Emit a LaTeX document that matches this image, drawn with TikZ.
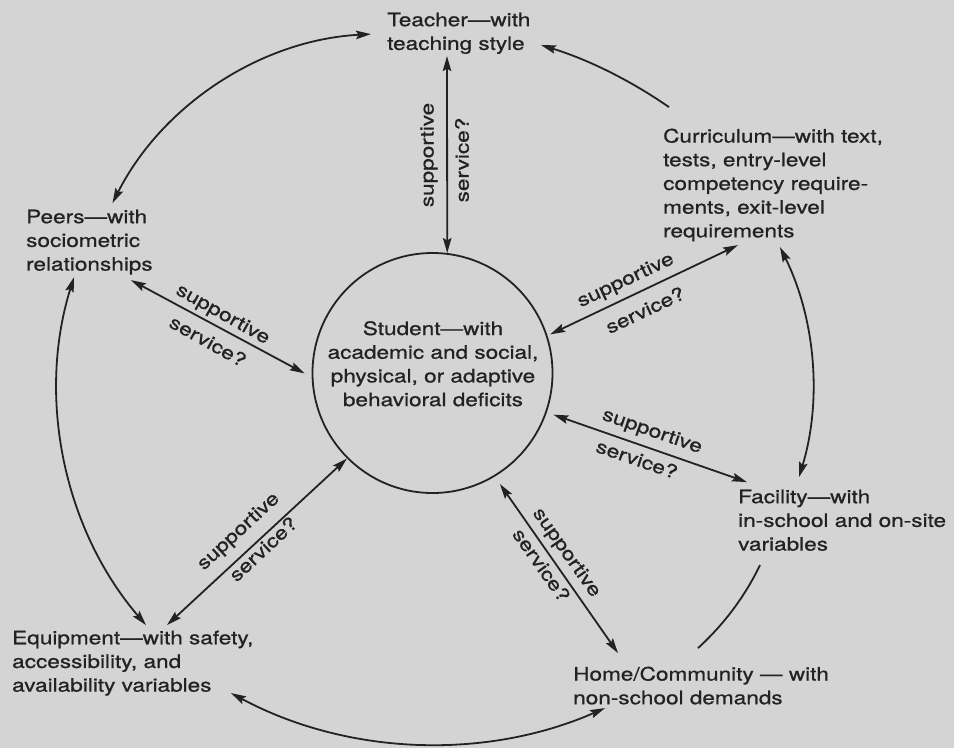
\documentclass[tikz,border=0pt]{standalone}
\usepackage{fontspec}
\setmainfont{TeX Gyre Heros}[FakeStretch=1.22,FakeBold=0.8]
\usetikzlibrary{arrows.meta,calc}
\definecolor{bg}{RGB}{212,212,212}
\definecolor{ink}{RGB}{34,34,34}
\begin{document}
\begin{tikzpicture}[x=1pt,y=-1pt,
  txt/.style={inner sep=0pt, anchor=north west, align=left, font=\fontsize{18.5}{23.7}\selectfont, text=ink},
  lbl/.style={inner sep=0pt, font=\fontsize{18.5}{22}\selectfont, text=ink},
  con/.style={draw=ink, line width=1.8pt},
  tip/.tip={Stealth[length=15pt,width=8.5pt,inset=2.5pt]},
  dbl/.style={con, tip-tip},
  sgl/.style={con, -tip}]
\fill[bg] (0,0) rectangle (954,748);
\useasboundingbox (0,0) rectangle (954,748);

% central student circle
\node[circle, draw=ink, line width=1.8pt, minimum size=240pt, inner sep=0pt] (stu) at (432.5,373) {};
\node[txt, anchor=center, align=center] (stut) at (433,363.8)
  {Student—with\\academic and social,\\physical, or adaptive\\behavioral deficits};

% outer nodes
\node[txt] (teacher) at (387,12.5) {Teacher—with\\teaching style};
\node[txt] (curr) at (663,128.5) {Curriculum—with text,\\tests, entry-level\\competency require-\\ments, exit-level\\requirements};
\node[txt] (peers) at (26,209.5) {Peers—with\\sociometric\\relationships};
\node[txt] (fac) at (738,489.5) {Facility—with\\in-school and on-site\\variables};
\node[txt] (home) at (573,666.5) {Home/Community — with\\non-school demands};
\node[txt] (equip) at (12,630.5) {Equipment—with safety,\\accessibility, and\\availability variables};

% ring connectors
\draw[dbl] ($(teacher.north west)+(-16,21.6)$) .. controls (261,40) and (162.2,104.9) .. ($(peers.north west)+(86.5,-6.4)$);
\draw[sgl] ($(curr.north west)+(6,-21.4)$) .. controls (629.5,79.7) and (586.9,59.1) .. ($(teacher.north west)+(154,32.6)$);
\draw[dbl] ($(curr.north west)+(117,118.6)$) .. controls (815.4,318.7) and (822.3,400.5) .. ($(fac.north west)+(61,-12.4)$);
\draw[con] ($(fac.north west)+(22,75.6)$) .. controls (744.7,596.7) and (724,624.3) .. ($(home.north west)+(125,-18.4)$);
\draw[dbl] ($(equip.north west)+(219,62.6)$) .. controls (346.9,755.1) and (484.5,760.7) .. ($(home.north west)+(32,41.6)$);
\draw[dbl] ($(peers.north west)+(48,67.6)$) .. controls (36.5,397.3) and (63.9,529.5) .. ($(equip.north west)+(134,-5.4)$);

% spokes
\draw[dbl] (stu.83) -- ($(teacher.north west)+(60,43.6)$);
\draw[dbl, shorten <=3pt] (stu.18) -- ($(curr.north west)+(75,116.6)$);
\draw[dbl, shorten >=8pt] ($(peers.north west)+(105,70.6)$) -- (stu.182);
\draw[dbl, shorten <=7pt] (stu.-19) -- ($(fac.north west)+(9,-7.4)$);
\draw[dbl, shorten <=9pt] (stu.-59) -- ($(home.north west)+(45,-13.4)$);
\draw[dbl] (stu.225) -- ($(equip.north west)+(155,-5.4)$);

% spoke labels
\node[lbl, rotate=90] (t1) at (429,155) {supportive};
\node[lbl, rotate=90] (t2) at (462,160) {service?};
\node[lbl, rotate=25.3] (c1) at (626,281) {supportive};
\node[lbl, rotate=25.3] (c2) at (645,310) {service?};
\node[lbl, rotate=-29.3] (p1) at (222.5,315) {supportive};
\node[lbl, rotate=-29.3] (p2) at (208,341) {service?};
\node[lbl, rotate=-19] (f1) at (652,432) {supportive};
\node[lbl, rotate=-19] (f2) at (637,459) {service?};
\node[lbl, rotate=-54.8] (h1) at (566,553) {supportive};
\node[lbl, rotate=-54.8] (h2) at (541.5,565) {service?};
\node[lbl, rotate=42.9] (e1) at (239,532) {supportive};
\node[lbl, rotate=42.9] (e2) at (263,549) {service?};
\end{tikzpicture}
\end{document}
